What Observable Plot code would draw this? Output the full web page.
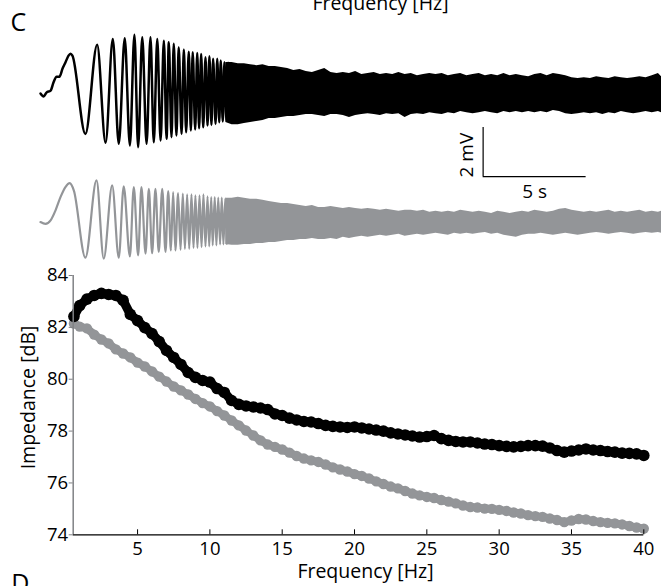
<!DOCTYPE html>
<html><head><meta charset="utf-8">
<script src="https://cdn.jsdelivr.net/npm/d3@7"></script>
<script src="https://cdn.jsdelivr.net/npm/@observablehq/plot@0.6"></script>
<style>
body{margin:0;background:#fff;}
#fig{position:relative;width:661px;height:586px;overflow:hidden;font-family:"Open Sans",sans-serif;}
#fig svg{position:absolute;left:0;top:0;}
</style></head>
<body><div id="fig"></div>
<script>
// ---- Voltage traces (time in s, voltage in mV relative to each trace's resting level) ----
// resolved part of the black trace: start + alternating peaks/troughs
const blackTraceT = [0,0.15,0.29,0.49,0.63,0.78,0.92,1.07,1.21,1.36,1.46,1.55,
  2.18,2.75,3.16,3.51,3.80,4.09,4.34,4.56,4.74,4.94,5.15,5.34,5.50,5.67,5.83,5.99,6.12,6.23,6.36,6.47,
  6.60,6.71,6.85,6.96,7.07,7.20,7.30,7.39,7.51,7.61,7.70,7.80,7.90,8.01,8.11,8.20,8.30,8.38,8.50,8.58,
  8.68,8.75,8.85,8.93,9.03,9.11];
const blackTraceMV = [0,-0.12,0.04,0.12,0.45,0.69,0.69,1.02,1.27,1.55,1.63,1.55,
  -1.65,1.99,-2.01,2.23,-2.05,2.26,-2.12,2.40,-2.19,2.30,-2.05,2.30,-1.99,2.23,-1.92,2.16,-1.85,2.09,-1.78,2.03,
  -1.71,1.89,-1.65,1.80,-1.58,1.71,-1.51,1.69,-1.47,1.66,-1.42,1.62,-1.38,1.48,-1.31,1.52,-1.28,1.42,-1.24,1.42,
  -1.17,1.35,-1.14,1.28,-1.10,1.25];
const grayTraceT = [0,0.24,0.49,0.73,0.97,1.21,1.42,1.62,
  2.18,2.72,3.07,3.48,3.80,4.04,4.34,4.53,4.74,4.90,5.10,5.26,5.42,5.58,5.74,5.91,6.07,6.20,6.33,6.44,
  6.55,6.68,6.80,6.91,7.01,7.12,7.22,7.33,7.43,7.52,7.62,7.72,7.82,7.91,8.01,8.11,8.19,8.29,8.36,8.46,
  8.54,8.63,8.72,8.80,8.88,8.97,9.04];
const grayTraceMV = [0,-0.07,0.07,0.48,1.02,1.43,1.59,1.29,
  -1.45,1.70,-1.49,1.50,-1.45,1.46,-1.40,1.43,-1.36,1.43,-1.29,1.36,-1.27,1.36,-1.22,1.36,-1.22,1.27,-1.16,1.22,
  -1.16,1.18,-1.13,1.16,-1.09,1.13,-1.09,1.13,-1.05,1.09,-1.05,1.09,-1.02,1.13,-0.99,1.05,-0.99,1.02,-0.95,1.02,
  -0.95,1.00,-0.91,1.00,-0.91,0.96,-0.88];
// dense (unresolved) part: upper / lower envelope
const bandT = [9.0,9.3,9.6,9.9,10.2,10.5,10.8,11.1,11.4,11.7,
  12.0,12.3,12.6,12.9,13.2,13.5,13.8,14.1,14.4,14.7,
  15.0,15.3,15.6,15.9,16.2,16.5,16.8,17.1,17.4,17.7,
  18.0,18.3,18.6,18.9,19.2,19.5,19.8,20.1,20.4,20.7,
  21.0,21.3,21.6,21.9,22.2,22.5,22.8,23.1,23.4,23.7,
  24.0,24.3,24.6,24.9,25.2,25.5,25.8,26.1,26.4,26.7,
  27.0,27.3,27.6,27.9,28.2,28.5,28.8,29.1,29.4,29.7,
  30.0,30.15];
const blackBandHi = [1.27,1.27,1.22,1.22,1.18,1.14,1.18,1.10,1.10,1.06,
  1.02,0.94,0.98,0.90,0.86,0.94,1.02,0.86,0.82,0.86,
  0.82,0.90,0.78,0.82,0.86,0.78,0.82,0.78,0.86,0.78,
  0.82,0.73,0.78,0.82,0.78,0.82,0.73,0.78,0.82,0.73,
  0.78,0.82,0.73,0.78,0.73,0.82,0.73,0.78,0.73,0.69,
  0.78,0.82,0.73,0.82,0.78,0.73,0.65,0.61,0.65,0.61,
  0.69,0.65,0.61,0.69,0.65,0.61,0.65,0.69,0.65,0.73,
  0.82,0.69];
const blackBandLo = [-1.18,-1.27,-1.27,-1.22,-1.18,-1.14,-1.10,-1.02,-1.02,-0.98,
  -0.94,-0.94,-0.90,-0.86,-0.86,-0.90,-0.94,-0.86,-0.86,-0.90,
  -0.98,-0.90,-0.86,-0.82,-0.86,-0.90,-0.82,-0.86,-0.82,-0.98,
  -0.86,-0.82,-0.86,-0.78,-0.82,-0.86,-0.78,-0.82,-0.73,-0.78,
  -0.82,-0.78,-0.73,-0.78,-0.82,-0.73,-0.78,-0.73,-0.78,-0.73,
  -0.78,-0.73,-0.78,-0.69,-0.73,-0.82,-0.86,-0.82,-0.78,-0.82,
  -0.78,-0.86,-0.78,-0.82,-0.73,-0.78,-0.82,-0.78,-0.73,-0.78,
  -0.73,-0.78];
const grayBandHi = [0.97,0.97,1.01,0.97,0.93,0.93,0.89,0.84,0.80,0.76,
  0.76,0.72,0.68,0.64,0.68,0.60,0.60,0.64,0.60,0.56,
  0.60,0.56,0.52,0.56,0.52,0.48,0.52,0.48,0.44,0.48,
  0.48,0.44,0.48,0.40,0.44,0.40,0.44,0.40,0.48,0.44,
  0.40,0.44,0.40,0.35,0.44,0.40,0.35,0.40,0.44,0.40,
  0.48,0.44,0.40,0.44,0.52,0.56,0.48,0.44,0.40,0.44,
  0.40,0.44,0.48,0.40,0.44,0.40,0.44,0.48,0.40,0.44,
  0.40,0.44];
const grayBandLo = [-0.91,-0.95,-0.95,-0.91,-0.91,-0.87,-0.87,-0.83,-0.83,-0.79,
  -0.75,-0.75,-0.71,-0.71,-0.67,-0.71,-0.71,-0.67,-0.71,-0.62,
  -0.67,-0.62,-0.58,-0.62,-0.58,-0.54,-0.58,-0.54,-0.50,-0.58,
  -0.54,-0.50,-0.54,-0.50,-0.46,-0.50,-0.54,-0.46,-0.50,-0.46,
  -0.50,-0.46,-0.42,-0.50,-0.46,-0.54,-0.58,-0.62,-0.54,-0.50,
  -0.50,-0.46,-0.50,-0.54,-0.50,-0.46,-0.50,-0.54,-0.50,-0.46,
  -0.42,-0.46,-0.50,-0.46,-0.42,-0.46,-0.50,-0.46,-0.42,-0.46,
  -0.42,-0.46];
// scale bar
const scaleBarMV = 2, scaleBarS = 5;

// ---- Impedance profile ----
const freqHz = [0.6,1,1.5,2,2.5,3,3.5,4,4.5,5,5.5,6,6.5,7,7.5,8,8.5,9,9.5,10,
  10.5,11,11.5,12,12.5,13,13.5,14,14.5,15,15.5,16,16.5,17,17.5,18,18.5,19,19.5,20,
  20.5,21,21.5,22,22.5,23,23.5,24,24.5,25,25.5,26,26.5,27,27.5,28,28.5,29,29.5,30,
  30.5,31,31.5,32,32.5,33,33.5,34,34.5,35,35.5,36,36.5,37,37.5,38,38.5,39,39.5,40];
const impBlackDB = [82.42,82.84,83.09,83.23,83.31,83.27,83.23,83.04,82.50,82.26,
  81.99,81.76,81.45,81.11,80.84,80.57,80.26,80.07,79.95,79.89,
  79.64,79.49,79.18,79.03,78.97,78.93,78.89,78.83,78.66,78.60,
  78.50,78.43,78.37,78.35,78.29,78.22,78.18,78.16,78.14,78.16,
  78.12,78.08,78.04,78.00,77.93,77.89,77.85,77.81,77.77,77.79,
  77.83,77.71,77.64,77.60,77.58,77.58,77.54,77.50,77.48,77.44,
  77.41,77.39,77.41,77.44,77.44,77.42,77.35,77.25,77.19,77.23,
  77.27,77.31,77.27,77.25,77.21,77.19,77.15,77.14,77.12,77.06];
const impGrayDB = [82.15,82.03,81.96,81.72,81.53,81.38,81.15,80.99,80.84,80.64,
  80.49,80.30,80.10,79.91,79.72,79.57,79.41,79.24,79.08,78.95,
  78.77,78.60,78.41,78.22,78.02,77.83,77.64,77.48,77.39,77.29,
  77.17,77.04,76.94,76.87,76.81,76.71,76.60,76.52,76.44,76.34,
  76.27,76.17,76.06,75.96,75.86,75.79,75.69,75.59,75.52,75.46,
  75.42,75.34,75.28,75.21,75.13,75.07,75.05,75.01,75.00,74.96,
  74.92,74.86,74.82,74.76,74.72,74.69,74.63,74.57,74.49,74.55,
  74.61,74.59,74.53,74.49,74.46,74.44,74.40,74.34,74.28,74.24];
const xTicks = [5,10,15,20,25,30,35,40];
const yTicks = [74,76,78,80,82,84];

// ---------------- drawing ----------------
const W = 661, H = 586;
const GRAY = "#939598";
const FONT = "Open Sans";
const LABEL = 19.5, TICK = 18.5;
const grayOffset = -5.25;          // vertical stacking of the gray trace (mV)
const barT0 = 21.49, barV0 = -3.39; // scale bar anchor

const blackLine = blackTraceT.map((t, i) => ({t, v: blackTraceMV[i]}));
const grayLine = grayTraceT.map((t, i) => ({t, v: grayTraceMV[i] + grayOffset}));
const blackBand = bandT.map((t, i) => ({t, hi: blackBandHi[i], lo: blackBandLo[i]}));
const grayBand = bandT.map((t, i) => ({t, hi: grayBandHi[i] + grayOffset, lo: grayBandLo[i] + grayOffset}));

const tracePlot = Plot.plot({
  width: W, height: H,
  marginLeft: 40, marginRight: 0, marginTop: 0, marginBottom: H - 262,
  x: {domain: [0, 30.15], axis: null},
  y: {domain: [-6.9, 3.8], axis: null},
  style: {background: "transparent", fontFamily: FONT, color: "black"},
  marks: [
    Plot.line(grayLine, {x: "t", y: "v", curve: "monotone-x", stroke: GRAY, strokeWidth: 2.2}),
    Plot.areaY(grayBand, {x: "t", y1: "lo", y2: "hi", fill: GRAY}),
    Plot.line(blackLine, {x: "t", y: "v", curve: "monotone-x", stroke: "black", strokeWidth: 2.5}),
    Plot.areaY(blackBand, {x: "t", y1: "lo", y2: "hi", fill: "black"}),
    Plot.ruleX([barT0], {y1: barV0, y2: barV0 + scaleBarMV, stroke: "black", strokeWidth: 1.2}),
    Plot.ruleY([barV0], {x1: barT0, x2: barT0 + scaleBarS, stroke: "black", strokeWidth: 1.2}),
    Plot.text([`${scaleBarMV} mV`], {x: barT0, y: barV0 + scaleBarMV / 2, rotate: -90, dx: -10, dy: 3, lineAnchor: "bottom", fontSize: 19, fill: "black"}),
    Plot.text([`${scaleBarS} s`], {x: barT0 + scaleBarS / 2, y: barV0, dy: 21, lineAnchor: "bottom", fontSize: 19, fill: "black"}),
    Plot.text(["C"], {frameAnchor: "top-left", dx: -30, dy: 30, lineAnchor: "bottom", textAnchor: "start", fontSize: 25, fill: "black"}),
    Plot.text(["Frequency [Hz]"], {frameAnchor: "top", dx: 29.5, dy: 9, lineAnchor: "bottom", fontSize: LABEL, fill: "black"})
  ]
});

const impBlack = freqHz.map((f, i) => ({f, db: impBlackDB[i]}));
const impGray = freqHz.map((f, i) => ({f, db: impGrayDB[i]}));
const xMin = 0.55, yMin = 74, yMid = 79;

const impPlot = Plot.plot({
  width: W, height: H,
  marginLeft: 72.7, marginRight: 17.7, marginTop: 275, marginBottom: 51.7,
  x: {domain: [xMin, 40]},
  y: {domain: [yMin, 84]},
  style: {background: "transparent", fontFamily: FONT, color: "black"},
  marks: [
    Plot.line(impGray, {x: "f", y: "db", stroke: GRAY, strokeWidth: 8}),
    Plot.dot(impGray, {x: "f", y: "db", r: 5.2, fill: GRAY}),
    Plot.line(impBlack, {x: "f", y: "db", stroke: "black", strokeWidth: 9}),
    Plot.dot(impBlack, {x: "f", y: "db", r: 5.8, fill: "black"}),
    Plot.ruleX([xMin], {stroke: "#808285", strokeWidth: 1.5}),
    Plot.ruleY([yMin], {stroke: "black", strokeWidth: 1.2}),
    Plot.axisY(yTicks, {tickSize: 4, tickPadding: 1, stroke: "#808285", fill: "black", label: null, fontSize: TICK}),
    Plot.axisX(xTicks, {tickSize: 5, dy: -5, fill: "none", stroke: "black", label: null}),
    Plot.axisX(xTicks, {tickSize: 0, tickPadding: 7.5, fill: "black", label: null, fontSize: TICK}),
    Plot.text(["Frequency [Hz]"], {frameAnchor: "bottom", dx: 7, dy: 43.4, lineAnchor: "bottom", fontSize: LABEL, fill: "black"}),
    Plot.text(["Impedance [dB]"], {x: xMin, y: yMid, rotate: -90, dx: -37.7, dy: -7.7, lineAnchor: "bottom", fontSize: LABEL, fill: "black"}),
    Plot.text(["D"], {frameAnchor: "bottom-left", dx: -62, dy: 56.7, lineAnchor: "bottom", textAnchor: "start", fontSize: 25, fill: "black"})
  ]
});

const fig = document.getElementById("fig");
fig.appendChild(impPlot);
fig.appendChild(tracePlot);
</script>
</body></html>
